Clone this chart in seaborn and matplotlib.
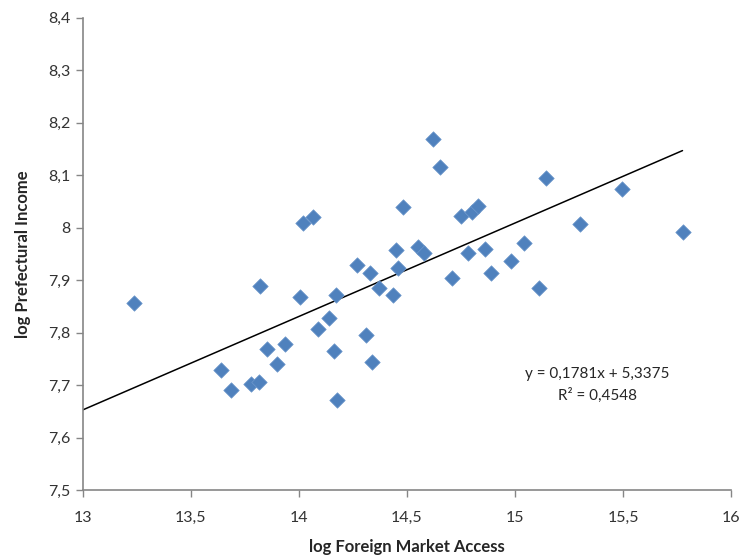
import numpy as np
import pandas as pd
import matplotlib.pyplot as plt
import seaborn as sns
from matplotlib.ticker import FuncFormatter

# === Data ===
fma = [13.236, 13.64, 13.685, 13.78, 13.815, 13.82, 13.85, 13.90, 13.935, 14.005,
       14.02, 14.065, 14.09, 14.14, 14.16, 14.17, 14.175, 14.27, 14.31, 14.33,
       14.34, 14.37, 14.435, 14.45, 14.46, 14.48, 14.55, 14.58, 14.62, 14.655,
       14.71, 14.75, 14.78, 14.80, 14.83, 14.86, 14.89, 14.98, 15.04, 15.11,
       15.145, 15.30, 15.495, 15.775]
income = [7.856, 7.729, 7.690, 7.702, 7.706, 7.889, 7.768, 7.740, 7.778, 7.868,
          8.009, 8.020, 7.806, 7.827, 7.765, 7.871, 7.671, 7.929, 7.795, 7.913,
          7.744, 7.885, 7.871, 7.957, 7.923, 8.039, 7.963, 7.951, 8.169, 8.115,
          7.904, 8.022, 7.951, 8.030, 8.041, 7.959, 7.913, 7.936, 7.970, 7.885,
          8.095, 8.007, 8.073, 7.992]
slope, intercept, r2 = 0.1781, 5.3375, 0.4548

df = pd.DataFrame({"fma": fma, "income": income})

sns.set_style("ticks")
plt.rcParams["font.family"] = ["Lato", "DejaVu Sans"]

fig = plt.figure(figsize=(7.4, 5.59), dpi=100)
ax = fig.add_axes([0.112, 0.1234, 0.876, 0.8446])

sns.scatterplot(x="fma", y="income", data=df, ax=ax, marker="D", s=62,
                color="#4F81BD", edgecolor="#6E98CC", linewidth=0.5, zorder=3)

# === Linear trend line (Excel style) ===
xs = np.array([13.0, max(fma)])
ax.plot(xs, slope * xs + intercept, color="black", lw=1.1, zorder=2)

ax.text(15.38, 7.721, f"y = {slope:.4f}x + {intercept:.4f}".replace(".", ","),
        ha="center", va="center", fontsize=11)
ax.text(15.38, 7.681, f"R\u00b2 = {r2:.4f}".replace(".", ","),
        ha="center", va="center", fontsize=11)

ax.set_xlim(13, 16)
ax.set_ylim(7.5, 8.4)
ax.set_xticks(np.arange(13, 16.01, 0.5))
ax.set_yticks(np.arange(7.5, 8.401, 0.1))
comma = FuncFormatter(lambda v, p: f"{round(v, 1):g}".replace(".", ","))
ax.xaxis.set_major_formatter(comma)
ax.yaxis.set_major_formatter(comma)

for side in ["top", "right"]:
    ax.spines[side].set_visible(False)
for side in ["left", "bottom"]:
    ax.spines[side].set_color("#868686")
    ax.spines[side].set_linewidth(1.2)
ax.tick_params(colors="#868686", labelcolor="#333333", labelsize=11.5, length=5, width=1)
ax.tick_params(axis="x", pad=10)
ax.tick_params(axis="y", pad=4)

ax.set_xlabel("log Foreign Market Access", fontsize=12, fontweight="bold", labelpad=10)
ax.set_ylabel("log Prefectural Income", fontsize=12, fontweight="bold", labelpad=12)

plt.savefig("out.png", dpi=100)
plt.close()
